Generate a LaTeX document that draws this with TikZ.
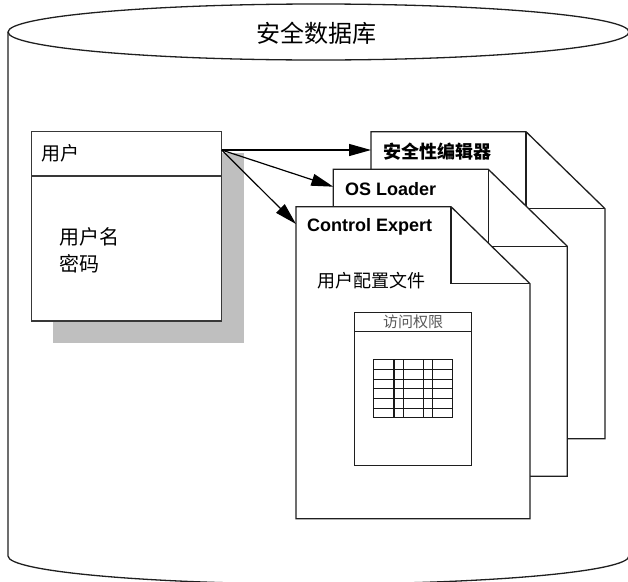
\documentclass[tikz,border=0pt]{standalone}
\usepackage{fontspec}
\setmainfont{Liberation Sans}
\newfontfamily\cjk{Noto Sans CJK SC}
\usetikzlibrary{arrows.meta}
\newcommand\docpage[4]{%
  \coordinate (#1) at (#2,#3);
  \filldraw[outline, fill=white] (#1) -- ++(155,0) -- ++(79,77) -- ++(0,#4-77) -- ++(-234,0) -- cycle;
  \draw[outline] (#1) ++(155,0) -- ++(0,77) -- ++(79,0);
}
\begin{document}
\begin{tikzpicture}[x=1pt,y=-1pt,
  outline/.style={draw=black!88, line width=1.3pt},
  thinline/.style={draw=black!78, line width=1.1pt},
  gridline/.style={draw=black!90, line width=1.4pt},
  lbl/.style={inner sep=0pt, anchor=west},
  arr/.style={draw=black, line width=1.2pt, -{Triangle[length=22pt,width=12pt]}},
  cn/.style={font=\cjk\fontsize{#1}{#1}\selectfont},
  bl/.style={font=\bfseries\fontsize{#1}{#1}\selectfont}]
\useasboundingbox (0,0) rectangle (628,581);
% cylinder
\draw[outline] (8,32) -- (8,556) arc[start angle=180,end angle=0,x radius=310.5,y radius=28] -- (629,32);
\draw[outline] (318.5,32) ellipse[x radius=310.5, y radius=28];
\node[cn=24, inner sep=0pt] (title) at (316,33) {安全数据库};
% user box
\fill[black!25] (53,153) rectangle (244,343);
\filldraw[thinline, fill=white] (31.7,131.7) rectangle (221.7,321);
\draw[thinline] (31.7,176) -- (221.7,176);
\node[lbl, cn=19] (user) at (41,153) {用户};
\node[lbl, cn=20] (uname) at (59,237) {用户名};
\node[lbl, cn=20] (pwd) at (59,264) {密码};
\coordinate (src) at (221.7,150);
% documents
\docpage{d1}{371}{131.7}{307}
\docpage{d2}{333.3}{169.3}{307}
\docpage{d3}{296}{206.7}{312}
\node[lbl, cn=18, font=\cjk\bfseries\fontsize{18}{18}\selectfont] (t1) at (383,152) {安全性编辑器};
\node[lbl, bl=18] (t2) at (345,189) {OS Loader};
\node[lbl, bl=18] (t3) at (307,227) {Control Expert};
\node[lbl, cn=18] (prof) at (317,281) {用户配置文件};
% access box
\draw[outline] (354.3,312.3) rectangle (471.7,465.7);
\draw[outline] (354.3,331.7) -- (471.7,331.7);
\node[cn=15, text=black!65, inner sep=0pt] (acc) at (413,322) {访问权限};
% grid
\foreach \gx in {373.3,394,403.3,423.3,432.7,452.7}
  \draw[gridline] (\gx,359.3) -- (\gx,417.7);
\foreach \gy in {359.3,369.3,379.3,388.7,398.3,408.3,417.7}
  \draw[gridline] (373.3,\gy) -- (452.7,\gy);
% arrows
\coordinate (e1) at (371,150);
\coordinate (e2) at (333.3,186.7);
\coordinate (e3) at (296,224);
\draw[arr] (src) -- (e1);
\draw[arr] (src) -- (e2);
\draw[arr] (src) -- (e3);
\end{tikzpicture}
\end{document}
